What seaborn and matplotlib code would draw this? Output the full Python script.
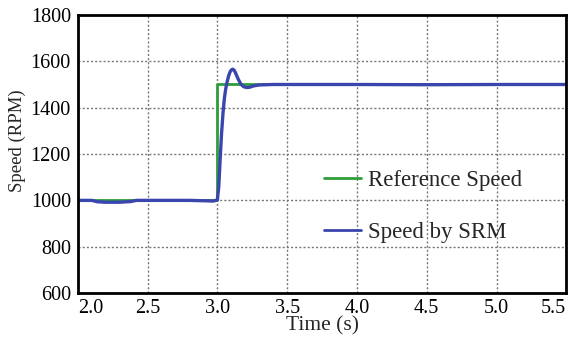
import numpy as np
import pandas as pd
import matplotlib
matplotlib.use("Agg")
import matplotlib.pyplot as plt
import seaborn as sns

# reference speed (step at t = 3 s)
ref_time = [2.0, 3.0, 3.0, 5.5]
ref_speed = [1000, 1000, 1500, 1500]

# measured speed of the SRM
srm_time = [2.0, 2.10, 2.14, 2.20, 2.30, 2.38, 2.42, 2.60, 2.80, 2.93, 2.97, 3.00,
            3.01, 3.02, 3.03, 3.04, 3.05, 3.06, 3.07, 3.08, 3.09, 3.10, 3.11,
            3.12, 3.13, 3.15, 3.17, 3.19, 3.21, 3.23, 3.26, 3.30, 3.40, 3.60,
            4.00, 4.50, 5.00, 5.50]
srm_speed = [1000, 1000, 994, 992, 992, 995, 1000, 1000, 1000, 998, 997, 1002,
             1060, 1180, 1290, 1375, 1440, 1482, 1512, 1536, 1553, 1563, 1566,
             1562, 1550, 1522, 1500, 1490, 1487, 1488, 1494, 1498, 1500, 1500,
             1500, 1499, 1500, 1500]

x_ticks = [2.0, 2.5, 3.0, 3.5, 4.0, 4.5, 5.0, 5.5]
y_ticks = [600, 800, 1000, 1200, 1400, 1600, 1800]

sns.set_style("white")
plt.rcParams["font.family"] = ["Liberation Serif", "DejaVu Serif"]

fig, ax = plt.subplots(figsize=(5.68, 3.4), dpi=100)
fig.subplots_adjust(left=0.137, right=0.997, top=0.956, bottom=0.138)

ref_df = pd.DataFrame({"t": ref_time, "v": ref_speed})
srm_df = pd.DataFrame({"t": srm_time, "v": srm_speed})

sns.lineplot(data=ref_df, x="t", y="v", sort=False, estimator=None,
             color="#2f9e3a", lw=2.0, label="Reference Speed", ax=ax)
sns.lineplot(data=srm_df, x="t", y="v", sort=False, estimator=None,
             color="#3a46ad", lw=2.4, label="Speed by SRM", ax=ax)

ax.set_xlim(2.0, 5.5)
ax.set_ylim(600, 1800)
ax.set_xticks(x_ticks)
ax.set_yticks(y_ticks)
ax.set_xticklabels([f"{x:.1f}" for x in x_ticks])
xl = ax.get_xticklabels()
xl[0].set_horizontalalignment("left")
xl[-1].set_horizontalalignment("right")

ax.grid(True, color="#777777", linestyle=(0, (1.5, 1.5)), lw=1.0)
for s in ax.spines.values():
    s.set_color("black")
    s.set_linewidth(2.0)
ax.tick_params(direction="in", length=4, width=1, labelsize=14.5,
               colors="black")
ax.tick_params(axis="x", pad=4)
ax.tick_params(axis="y", pad=5)

ax.set_xlabel("Time (s)", fontsize=15.5, labelpad=-1)
ax.set_ylabel("Speed (RPM)", fontsize=13.5)
ax.yaxis.set_label_coords(-0.106, 0.547)

leg = ax.legend(loc="center left", bbox_to_anchor=(0.462, 0.311), frameon=False,
                fontsize=16.5, labelspacing=1.35, handlelength=1.6,
                handletextpad=0.3)
for line in leg.get_lines():
    line.set_linewidth(2.0)

fig.savefig("out.png", dpi=100)
